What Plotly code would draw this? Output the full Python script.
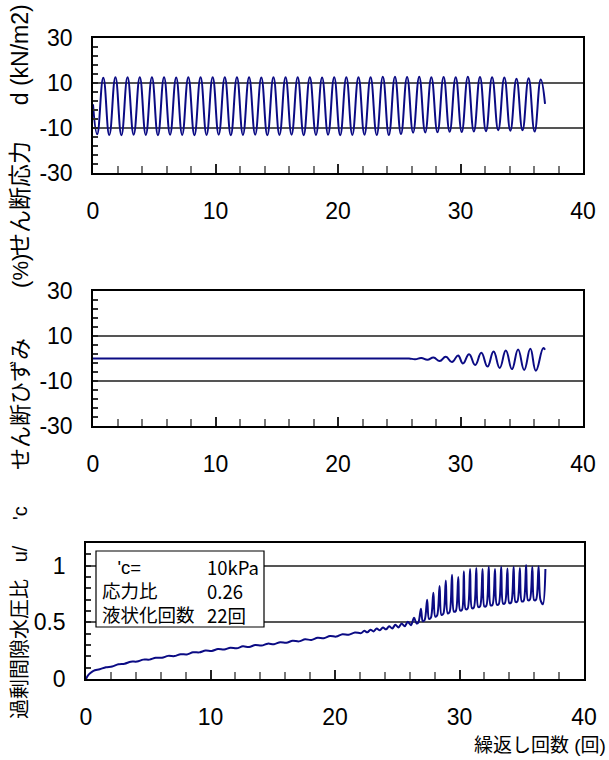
import plotly.graph_objects as go

# ---------------- data ----------------
# Panel 1: cyclic shear stress (kN/m2) – extrema of each loading cycle
stress_start = (0.00, 0.5)
stress_trough_t = [0.34, 1.33, 2.32, 3.32, 4.31, 5.30, 6.29, 7.28, 8.28, 9.27, 10.26, 11.25,
                   12.24, 13.24, 14.23, 15.22, 16.21, 17.20, 18.20, 19.19, 20.18, 21.17, 22.16,
                   23.16, 24.15, 25.14, 26.13, 27.12, 28.12, 29.11, 30.10, 31.09, 32.08, 33.08,
                   34.07, 35.06, 36.05]
stress_trough_v = [-12.8, -13.1, -13.2, -13.0, -13.1, -13.2, -13.0, -13.1, -13.2, -13.1, -13.0,
                   -13.2, -13.1, -13.0, -13.2, -13.1, -13.0, -13.2, -13.1, -13.0, -13.2, -13.1,
                   -13.0, -13.1, -13.1, -12.7, -12.1, -12.0, -11.9, -11.7, -11.8, -11.6, -11.4,
                   -11.0, -11.2, -11.0, -11.6]
stress_peak_t = [0.84, 1.83, 2.82, 3.82, 4.81, 5.80, 6.79, 7.78, 8.78, 9.77, 10.76, 11.75, 12.74,
                 13.74, 14.73, 15.72, 16.71, 17.70, 18.70, 19.69, 20.68, 21.67, 22.66, 23.66,
                 24.65, 25.64, 26.63, 27.62, 28.62, 29.61, 30.60, 31.59, 32.58, 33.58, 34.57,
                 35.56, 36.55]
stress_peak_v = [12.3, 12.6, 12.5, 12.6, 12.5, 12.6, 12.4, 12.6, 12.5, 12.6, 12.5, 12.6, 12.5,
                 12.4, 12.6, 12.5, 12.6, 12.5, 12.4, 12.6, 12.5, 12.6, 12.5, 12.8, 12.8, 12.7,
                 12.8, 12.6, 12.7, 12.6, 12.8, 12.7, 12.5, 12.4, 11.9, 12.1, 11.6]
stress_end = (36.90, 0.7)

# Panel 2: shear strain (%)
strain_t = [0.0, 5.0, 10.0, 15.0, 20.0, 24.0, 25.0, 25.8, 26.3, 26.8, 27.3, 27.8, 28.3, 28.8,
            29.3, 29.8, 30.2, 30.7, 31.2, 31.7, 32.2, 32.7, 33.2, 33.7, 34.2, 34.7, 35.2, 35.7,
            36.15, 36.75, 36.9]
strain_v = [0.0, 0.0, 0.0, 0.0, 0.0, 0.0, 0.0, 0.0, -0.3, 0.2, -0.6, 0.4, -1.1, 0.8,
            -1.6, 1.3, -2.2, 1.9, -2.9, 2.5, -3.6, 3.1, -4.2, 3.6, -4.7, 4.0, -5.1, 4.3,
            -5.4, 4.6, 3.9]

# Panel 3: excess pore water pressure ratio
pp_t = [0.00, 0.15, 0.35, 0.60, 1.10, 1.60, 2.10, 2.60, 3.10, 3.60, 4.10, 4.60, 5.10, 5.60,
        6.10, 6.60, 7.10, 7.60, 8.10, 8.60, 9.10, 9.60, 10.10, 10.60, 11.10, 11.60, 12.10,
        12.60, 13.10, 13.60, 14.10, 14.60, 15.10, 15.60, 16.10, 16.60, 17.10, 17.60, 18.10,
        18.60, 19.10, 19.60, 20.10, 20.60, 21.10, 21.60, 22.10,
        22.35, 22.60, 22.85, 23.10, 23.35, 23.60, 23.85, 24.10, 24.35, 24.60, 24.85, 25.10,
        25.35, 25.60, 25.85, 26.10, 26.35, 26.55, 26.70, 26.90, 27.05, 27.20, 27.40, 27.55,
        27.70, 27.90, 28.05, 28.20, 28.40, 28.55, 28.70, 28.90, 29.05, 29.20, 29.40, 29.55,
        29.70, 29.90, 30.05, 30.20, 30.35, 30.50, 30.65, 30.85, 31.00, 31.15, 31.35, 31.50,
        31.65, 31.85, 32.00, 32.15, 32.35, 32.50, 32.65, 32.85, 33.00, 33.15, 33.35, 33.50,
        33.65, 33.85, 34.00, 34.15, 34.35, 34.50, 34.65, 34.85, 35.00, 35.15, 35.35, 35.50,
        35.65, 35.85, 36.00, 36.15, 36.35, 36.50, 36.70, 36.90]
pp_v = [0.000, 0.030, 0.052, 0.072, 0.086, 0.104, 0.110, 0.130, 0.135, 0.153, 0.154, 0.171,
        0.171, 0.188, 0.187, 0.204, 0.202, 0.219, 0.217, 0.236, 0.235, 0.251, 0.248, 0.264,
        0.260, 0.276, 0.271, 0.288, 0.283, 0.300, 0.295, 0.312, 0.307, 0.325, 0.320, 0.338,
        0.332, 0.350, 0.345, 0.364, 0.360, 0.379, 0.374, 0.395, 0.390, 0.410, 0.405,
        0.425, 0.412, 0.435, 0.420, 0.445, 0.430, 0.455, 0.438, 0.465, 0.446, 0.478, 0.455,
        0.490, 0.465, 0.505, 0.475, 0.540, 0.490, 0.500, 0.620, 0.510, 0.520, 0.700, 0.530,
        0.540, 0.760, 0.550, 0.560, 0.820, 0.565, 0.575, 0.870, 0.580, 0.590, 0.920, 0.595,
        0.600, 0.900, 0.605, 0.610, 0.950, 0.615, 0.620, 0.970, 0.625, 0.630, 0.980, 0.635,
        0.640, 0.970, 0.640, 0.645, 0.990, 0.650, 0.655, 0.970, 0.655, 0.660, 0.990, 0.665,
        0.670, 0.975, 0.670, 0.675, 0.990, 0.680, 0.685, 0.980, 0.685, 0.690, 1.005, 0.695,
        0.700, 0.990, 0.695, 0.700, 0.995, 0.700, 0.660, 0.970]

x_ticks = [0, 10, 20, 30, 40]
stress_ticks = [-30, -10, 10, 30]
strain_ticks = [-30, -10, 10, 30]
pp_ticks = [0, 0.5, 1]

info_labels = ["\u00a0\u00a0\u00a0'c=", "応力比", "液状化回数"]
info_values = ["10kPa", "0.26", "22回"]

# ---------------- build ----------------
st_t = [stress_start[0]]
st_v = [stress_start[1]]
for a, b, c, d in zip(stress_trough_t, stress_trough_v, stress_peak_t, stress_peak_v):
    st_t += [a, c]
    st_v += [b, d]
st_t.append(stress_end[0])
st_v.append(stress_end[1])

W, H = 609, 760
def px(x):
    return x / W
def py(y):
    return 1 - y / H

NUM_FONT = "Liberation Sans Narrow, Arial Narrow, Liberation Sans, Arial, sans-serif"
JP_FONT = "Liberation Sans, Arial, Noto Sans CJK JP, sans-serif"
LINE = dict(color="#0b0b84", width=2, shape="spline", smoothing=1.3)

fig = go.Figure()
fig.add_trace(go.Scatter(x=st_t, y=st_v, mode="lines", line=LINE, xaxis="x", yaxis="y"))
fig.add_trace(go.Scatter(x=strain_t, y=strain_v, mode="lines", line=LINE, xaxis="x2", yaxis="y2"))
fig.add_trace(go.Scatter(x=pp_t, y=pp_v, mode="lines",
                         line=dict(color="#0b0b84", width=2, shape="spline", smoothing=0.9),
                         xaxis="x3", yaxis="y3"))

def xax(domain, anchor):
    return dict(domain=domain, anchor=anchor, range=[0, 40], tickmode="array",
                tickvals=x_ticks, ticktext=[str(v) for v in x_ticks],
                ticks="inside", ticklen=9, tickwidth=1.5, tickcolor="#222",
                minor=dict(ticks="inside", dtick=2, tick0=0, ticklen=7, tickwidth=1.5,
                           tickcolor="#777", showgrid=False),
                showgrid=False, zeroline=False, showline=True, linecolor="black",
                linewidth=1.5, mirror=True, ticklabelstandoff=17, automargin=False,
                tickfont=dict(family=NUM_FONT, size=23, color="black"))

def yax(domain, anchor, rng, ticks, minor_dtick, labels):
    return dict(domain=domain, anchor=anchor, range=rng, tickmode="array",
                tickvals=ticks, ticktext=labels,
                ticks="inside", ticklen=5, tickwidth=1.5, tickcolor="#222",
                minor=dict(ticks="inside", dtick=minor_dtick, tick0=rng[0], ticklen=5,
                           tickwidth=1.5, tickcolor="#333", showgrid=False),
                showgrid=True, gridcolor="#555", gridwidth=1.5, zeroline=False,
                showline=True, linecolor="black", linewidth=1.5, mirror=True,
                ticklabelstandoff=14, automargin=False,
                tickfont=dict(family=NUM_FONT, size=23, color="black"))

fig.update_layout(
    width=W, height=H, margin=dict(l=0, r=0, t=0, b=0, pad=0, autoexpand=False),
    paper_bgcolor="white", plot_bgcolor="white", showlegend=False,
    xaxis=xax([px(93), px(583)], "y"),
    yaxis=yax([py(173), py(38)], "x", [-30, 30], stress_ticks, 4,
              [str(v) for v in stress_ticks]),
    xaxis2=xax([px(93), px(583)], "y2"),
    yaxis2=yax([py(426), py(291)], "x2", [-30, 30], strain_ticks, 4,
               [str(v) for v in strain_ticks]),
    xaxis3=xax([px(86), px(584)], "y3"),
    yaxis3=yax([py(679), py(543)], "x3", [0, 1.2], pp_ticks, 0.1,
               ["0", "0.5", "1"]),
)

# info box in panel 3
fig.add_shape(type="rect", xref="paper", yref="paper",
              x0=px(96), x1=px(264), y0=py(627), y1=py(551),
              line=dict(color="black", width=1.2), fillcolor="white", layer="above")
fig.add_annotation(x=px(100), y=py(591), xref="paper", yref="paper",
                   text="<br>".join(info_labels), showarrow=False, align="left",
                   xanchor="left", yanchor="middle",
                   font=dict(family=JP_FONT, size=18.5, color="black"))
fig.add_annotation(x=px(205), y=py(591), xref="paper", yref="paper",
                   text="<br>".join(info_values), showarrow=False, align="left",
                   xanchor="left", yanchor="middle",
                   font=dict(family="Liberation Sans Narrow, Arial Narrow, Noto Sans CJK JP",
                             size=18.5, color="black"))

# rotated axis titles
titles = [
    ("せん断応力\u3000\u00a0\u00a0d (kN/m2)", 130, 23),
    ("せん断ひずみ\u3000\u3000\u00a0(%)", 362, 22),
    ("過剰間隙水圧比\u00a0\u00a0\u00a0u/\u3000\u00a0'c", 613, 20),
]
for txt, yc, fs in titles:
    fig.add_annotation(x=px(20), y=py(yc), xref="paper", yref="paper", text=txt,
                       textangle=-90, showarrow=False, xanchor="center", yanchor="middle",
                       font=dict(family=JP_FONT, size=fs, color="black"))

fig.add_annotation(x=px(472), y=py(745), xref="paper", yref="paper",
                   text="繰返し回数 (回)", showarrow=False, xanchor="left", yanchor="middle",
                   font=dict(family=JP_FONT, size=19, color="black"))

fig.write_html("out.html")
